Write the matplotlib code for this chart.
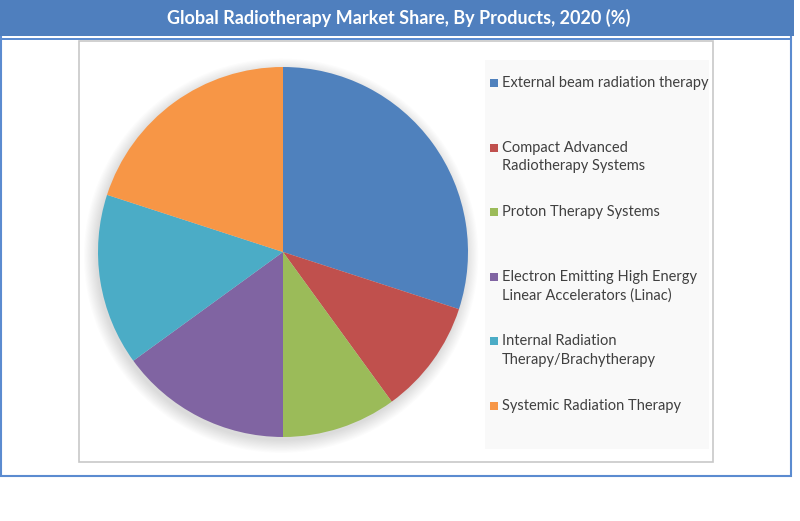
import matplotlib
matplotlib.use("Agg")
import matplotlib.pyplot as plt
from matplotlib.patches import Rectangle, Circle
import numpy as np

title = "Global Radiotherapy Market Share, By Products, 2020 (%)"
categories = [
    "External beam radiation therapy",
    "Compact Advanced\nRadiotherapy Systems",
    "Proton Therapy Systems",
    "Electron Emitting High Energy\nLinear Accelerators (Linac)",
    "Internal Radiation\nTherapy/Brachytherapy",
    "Systemic Radiation Therapy",
]
shares = [30, 10, 10, 15, 15, 20]
colors = ["#4F81BD", "#C0504D", "#9BBB59", "#8064A2", "#4BACC6", "#F79646"]

W, H = 800, 521
fig = plt.figure(figsize=(W / 100, H / 100), dpi=100)
fig.patch.set_facecolor("white")

def fx(x):
    return x / W

def fy(y):
    return 1 - y / H

# outer blue frame
fig.patches.append(Rectangle((fx(1), fy(476)), fx(790), (475) / H, transform=fig.transFigure,
                             fill=False, edgecolor="#5B8BD0", lw=1.5))
# title bar
fig.patches.append(Rectangle((0, fy(36)), 1 - fx(6), 36 / H, transform=fig.transFigure,
                             facecolor="#4F7FBE", edgecolor="none"))
fig.patches.append(Rectangle((fx(1), fy(39.5)), fx(790), 1.2 / H, transform=fig.transFigure,
                             facecolor="#5B8BD0", edgecolor="none"))
fig.text(fx(399), fy(18), title, color="white", fontsize=13, fontweight="bold",
         family="Lato", ha="center", va="center")

# plot area box
fig.patches.append(Rectangle((fx(79), fy(462)), fx(634), 421 / H, transform=fig.transFigure,
                             fill=False, edgecolor="#C8C8C8", lw=1.2))
# legend background
fig.patches.append(Rectangle((fx(485), fy(449)), fx(224), 389 / H, transform=fig.transFigure,
                             facecolor="#F9F9F9", edgecolor="none"))

# pie
cx, cy, r = 283, 252, 185
ax = fig.add_axes([fx(cx - r), fy(cy + r), fx(2 * r), 2 * r / H])
ax.set_aspect("equal")
# soft shadow
for k in range(12):
    ax.add_patch(Circle((-0.01, -0.02), 1.0 + 0.006 * k, facecolor="black",
                        alpha=0.010, edgecolor="none", zorder=0))
ax.pie(shares, colors=colors, startangle=90, counterclock=False, radius=1.0,
       wedgeprops=dict(edgecolor="none"))
ax.set_xlim(-1.0, 1.0)
ax.set_ylim(-1.0, 1.0)
ax.axis("off")
for child in ax.patches:
    child.set_clip_on(False)

# legend
y0, step = 83, 64.6
for i, (lab, col) in enumerate(zip(categories, colors)):
    yt = y0 + i * step
    fig.patches.append(Rectangle((fx(490), fy(yt + 4)), fx(8), 8 / H, transform=fig.transFigure,
                                 facecolor=col, edgecolor="none"))
    fig.text(fx(502), fy(yt - 7), lab, color="#404040", fontsize=10.5, family="Lato",
             ha="left", va="top", linespacing=1.42)

fig.savefig("out.png", dpi=100)
